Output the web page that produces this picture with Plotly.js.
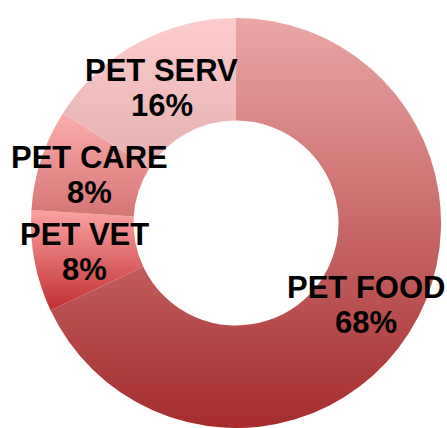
<!DOCTYPE html>
<html>
<head>
<meta charset="utf-8">
<script src="https://cdn.plot.ly/plotly-3.0.1.min.js"></script>
<style>html,body{margin:0;padding:0;background:#fff;}#chart{width:447px;height:428px;}</style>
</head>
<body>
<div id="chart"></div>
<script>
const labels = ["PET FOOD", "PET VET", "PET CARE", "PET SERV"];
const values = [68, 8, 8, 16];
const baseColors = ["#c86b6b", "#e57c7c", "#e99191", "#f0bcbc"];
const gradTop = ["#eba6a6", "#fca2a2", "#fcacac", "#fdcccc"];
const gradBottom = ["#a52c2c", "#c02f2f", "#d47474", "#e4b0b0"];

const W = 447, H = 428;
const domX = [0.067, 0.989], domY = [0.0, 0.958];
const hole = 0.5;
const fontSize = 31;
const lineGap = 35;

const trace = {
  type: "pie",
  labels: labels,
  values: values,
  hole: hole,
  sort: false,
  direction: "clockwise",
  rotation: 0,
  marker: {colors: baseColors, line: {width: 0}},
  textinfo: "none",
  domain: {x: domX, y: domY},
  showlegend: false,
  hoverinfo: "label+percent"
};

// label positions derived from the values: mid-ring on each slice's bisector
const total = values.reduce((a, b) => a + b, 0);
const cxPx = (domX[0] + domX[1]) / 2 * W;
const cyPx = (domY[0] + domY[1]) / 2 * H;
const R = Math.min((domX[1] - domX[0]) * W, (domY[1] - domY[0]) * H) / 2;
const rMid = R * (1 + hole) / 2;
const annotations = [];
let cum = 0;
values.forEach(function (v, i) {
  const mid = (cum + v / 2) / total * 2 * Math.PI;
  cum += v;
  const x = (cxPx + rMid * Math.sin(mid)) / W;
  const y = (cyPx + rMid * Math.cos(mid)) / H;
  const pct = Math.round(v / total * 100) + "%";
  const font = {family: "Arial, 'Liberation Sans', sans-serif", size: fontSize, color: "#000", weight: "bold"};
  annotations.push({xref: "paper", yref: "paper", x: x, y: y, text: labels[i], showarrow: false,
    font: font, xanchor: "center", yanchor: "middle", yshift: lineGap / 2});
  annotations.push({xref: "paper", yref: "paper", x: x, y: y, text: pct, showarrow: false,
    font: font, xanchor: "center", yanchor: "middle", yshift: -lineGap / 2});
});

const layout = {
  width: W, height: H,
  margin: {l: 0, r: 0, t: 0, b: 0},
  paper_bgcolor: "#fff",
  showlegend: false,
  annotations: annotations
};

Plotly.newPlot("chart", [trace], layout, {staticPlot: true}).then(function (gd) {
  const svg = gd.querySelector("svg.main-svg");
  const ns = "http://www.w3.org/2000/svg";
  let defs = svg.querySelector("defs");
  if (!defs) { defs = document.createElementNS(ns, "defs"); svg.insertBefore(defs, svg.firstChild); }
  const paths = gd.querySelectorAll(".slice path.surface");
  paths.forEach(function (p, i) {
    const g = document.createElementNS(ns, "linearGradient");
    g.setAttribute("id", "sliceGrad" + i);
    g.setAttribute("x1", "0"); g.setAttribute("y1", "0");
    g.setAttribute("x2", "0"); g.setAttribute("y2", "1");
    const s1 = document.createElementNS(ns, "stop");
    s1.setAttribute("offset", "0"); s1.setAttribute("stop-color", gradTop[i]);
    const s2 = document.createElementNS(ns, "stop");
    s2.setAttribute("offset", "1"); s2.setAttribute("stop-color", gradBottom[i]);
    g.appendChild(s1); g.appendChild(s2);
    defs.appendChild(g);
    p.style.fill = "url(#sliceGrad" + i + ")";
  });
});
</script>
</body>
</html>
